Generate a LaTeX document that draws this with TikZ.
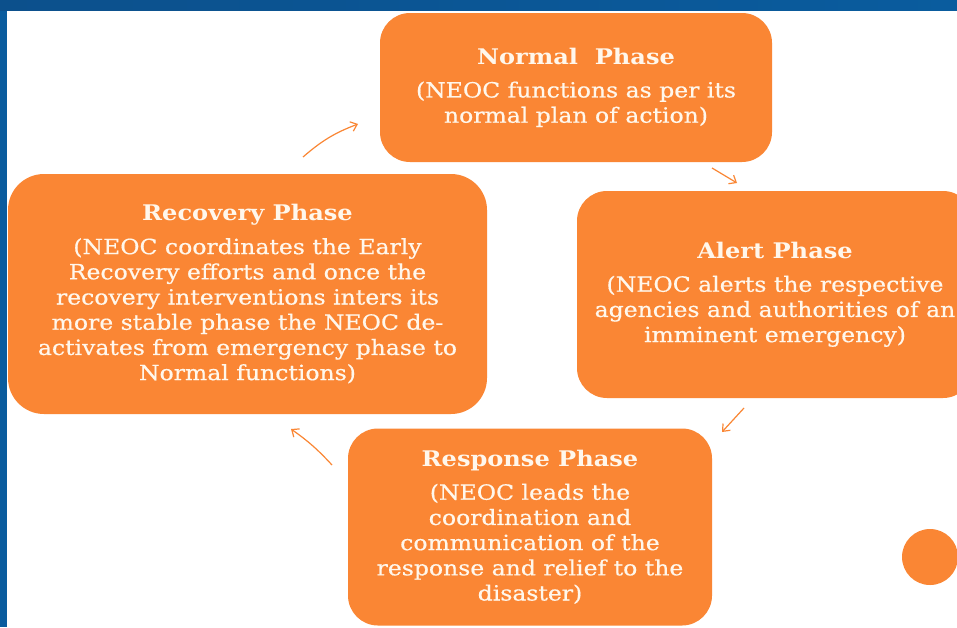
\documentclass[tikz,border=0pt]{standalone}
\usepackage{fontspec}
\setmainfont{DejaVu Serif}[FakeStretch=1.12]
\newfontfamily\heavyserif{DejaVu Serif}[FakeStretch=1.12, FakeBold=0.6]
\usetikzlibrary{arrows.meta}
\definecolor{phaseorange}{RGB}{250,134,52}
\definecolor{phasetext}{RGB}{255,247,236}
\definecolor{frameblueA}{RGB}{12,80,140}
\definecolor{frameblueB}{RGB}{0,112,192}
\definecolor{frameblueC}{RGB}{10,92,158}
\newcommand\phasebody{\heavyserif\fontsize{21}{25.2}\selectfont}
\newcommand\phasehead[1]{{\normalfont\fontsize{21.5}{25.2}\selectfont\bfseries #1}\\[8pt]}
\begin{document}
\begin{tikzpicture}[x=1pt,y=-1pt,
  phase/.style={fill=phaseorange, rounded corners=30pt, text=phasetext,
    align=center, inner sep=0pt, font=\phasebody},
  cyc/.style={draw=phaseorange, line width=1.2pt,
    -{Straight Barb[length=6pt,width=10pt]}},
]
\useasboundingbox (0,0) rectangle (957,627);
\fill[white] (0,0) rectangle (957,627);

% blue frame along the top and left edges
\fill[frameblueC] (0,0) rectangle (7,627);
\shade[left color=frameblueA, middle color=frameblueB, right color=frameblueC]
  (0,0) rectangle (957,10.5);

% the four phases
\node[phase, minimum width=392pt, minimum height=149pt] (normal) at (576,87.5)
  {\phasehead{Normal\ \ Phase}(NEOC functions as per its\\normal plan of action)};
\node[phase, minimum width=479pt, minimum height=240pt, rounded corners=36pt] (recovery) at (247.5,294)
  {\phasehead{Recovery Phase}(NEOC coordinates the Early\\Recovery efforts and once the\\recovery interventions inters its\\more stable phase the NEOC de-\\activates from emergency phase to\\Normal functions)};
\node[phase, minimum width=396pt, minimum height=207pt] (alert) at (775,294.5)
  {\phasehead{Alert Phase}(NEOC alerts the respective\\agencies and authorities of an\\imminent emergency)};
\node[phase, minimum width=364pt, minimum height=197pt] (response) at (530,527)
  {\phasehead{Response Phase}(NEOC leads the\\coordination and\\communication of the\\response and relief to the\\disaster)};

\node[circle, fill=phaseorange, minimum size=56pt, inner sep=0pt] (dot) at (930,557) {};

% cycle arrows between the phases
\coordinate (rn1) at (303,157);  \coordinate (rn2) at (358,124);
\coordinate (na1) at (712,168);  \coordinate (na2) at (737,183);
\coordinate (ar1) at (744,408);  \coordinate (ar2) at (722,432);
\coordinate (rr1) at (332,465);  \coordinate (rr2) at (291,429);
\draw[cyc] (rn1) to[bend left=10] (rn2);
\draw[cyc] (na1) -- (na2);
\draw[cyc] (ar1) -- (ar2);
\draw[cyc] (rr1) to[bend right=6] (rr2);
\end{tikzpicture}
\end{document}
